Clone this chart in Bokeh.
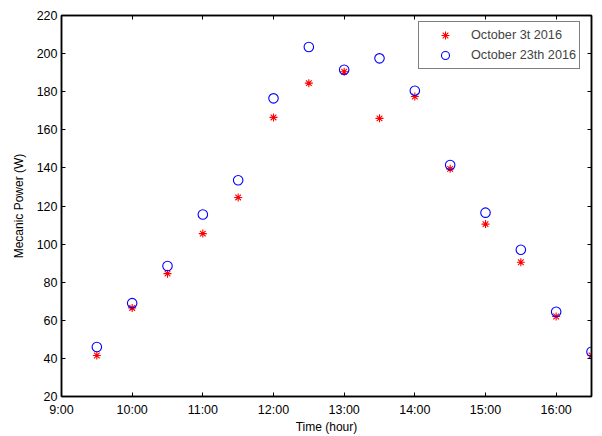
from bokeh.plotting import figure
from bokeh.models import LinearAxis, Range1d, FixedTicker, Legend, LegendItem
from bokeh.embed import file_html
from bokeh.resources import INLINE

hours = [9.5, 10.0, 10.5, 11.0, 11.5, 12.0, 12.5, 13.0, 13.5, 14.0, 14.5, 15.0, 15.5, 16.0, 16.5]
oct3 = [41.5, 66.5, 84.5, 105.5, 124.5, 166.5, 184.5, 190.5, 166.0, 177.5, 139.5, 110.5, 90.5, 62.0, 41.5]
oct23 = [46.0, 69.0, 88.5, 115.5, 133.5, 176.5, 203.5, 191.5, 197.5, 180.5, 141.5, 116.5, 97.0, 64.5, 43.5]
x_ticks = [9, 10, 11, 12, 13, 14, 15, 16]
x_tick_labels = ["9:00", "10:00", "11:00", "12:00", "13:00", "14:00", "15:00", "16:00"]
y_ticks = [20, 40, 60, 80, 100, 120, 140, 160, 180, 200, 220]

FONT = "Liberation Sans"

p = figure(width=596, height=436, output_backend="svg", toolbar_location=None,
           x_range=Range1d(9, 16.5), y_range=Range1d(20, 220),
           min_border_left=61, min_border_right=5, min_border_top=15, min_border_bottom=39,
           x_axis_label="Time (hour)", y_axis_label="Mecanic Power (W)")
p.xgrid.visible = False
p.ygrid.visible = False
p.outline_line_color = "black"
p.outline_line_width = 1.5

for ax in p.xaxis:
    ax.ticker = FixedTicker(ticks=x_ticks)
    ax.major_label_overrides = {t: l for t, l in zip(x_ticks, x_tick_labels)}
    ax.major_label_standoff = 6
    ax.axis_label_standoff = 0
for ax in p.yaxis:
    ax.ticker = FixedTicker(ticks=y_ticks)
    ax.major_label_standoff = 4
    ax.axis_label_standoff = 8

for ax in list(p.xaxis) + list(p.yaxis):
    ax.major_tick_in = 4
    ax.major_tick_out = 0
    ax.minor_tick_in = 0
    ax.minor_tick_out = 0
    ax.axis_line_color = "black"
    ax.axis_line_width = 1.5
    ax.major_tick_line_color = "black"
    ax.major_label_text_font = FONT
    ax.major_label_text_font_size = "12.5px"
    ax.major_label_text_color = "black"
    ax.axis_label_text_font = FONT
    ax.axis_label_text_font_size = "12px"
    ax.axis_label_text_font_style = "normal"
    ax.axis_label_text_color = "black"

for loc, ticks in (("above", x_ticks), ("right", y_ticks)):
    ax = LinearAxis(ticker=FixedTicker(ticks=ticks))
    ax.major_tick_in = 4
    ax.major_tick_out = 0
    ax.minor_tick_in = 0
    ax.minor_tick_out = 0
    ax.major_label_text_font_size = "1px"
    ax.major_label_text_color = None
    ax.major_label_standoff = 0
    ax.axis_line_width = 1.5
    p.add_layout(ax, loc)

r1 = p.scatter(hours, oct3, marker="asterisk", size=8, line_color="red", line_width=1.1)
r2 = p.scatter(hours, oct23, marker="circle", size=9.5, line_color="blue", fill_color=None, line_width=1.1)

legend = Legend(items=[LegendItem(label="October 3t 2016", renderers=[r1]),
                       LegendItem(label="October 23th 2016", renderers=[r2])],
                location=(357, 327))
legend.label_text_font = FONT
legend.label_text_font_size = "12.7px"
legend.border_line_color = "black"
legend.border_line_width = 1.3
legend.margin = 0
legend.padding = 3
legend.spacing = 0
legend.label_height = 20
legend.glyph_height = 20
legend.glyph_width = 46
legend.label_standoff = 3
legend.background_fill_alpha = 1
p.add_layout(legend)

open("out.html", "w").write(file_html(p, INLINE))
